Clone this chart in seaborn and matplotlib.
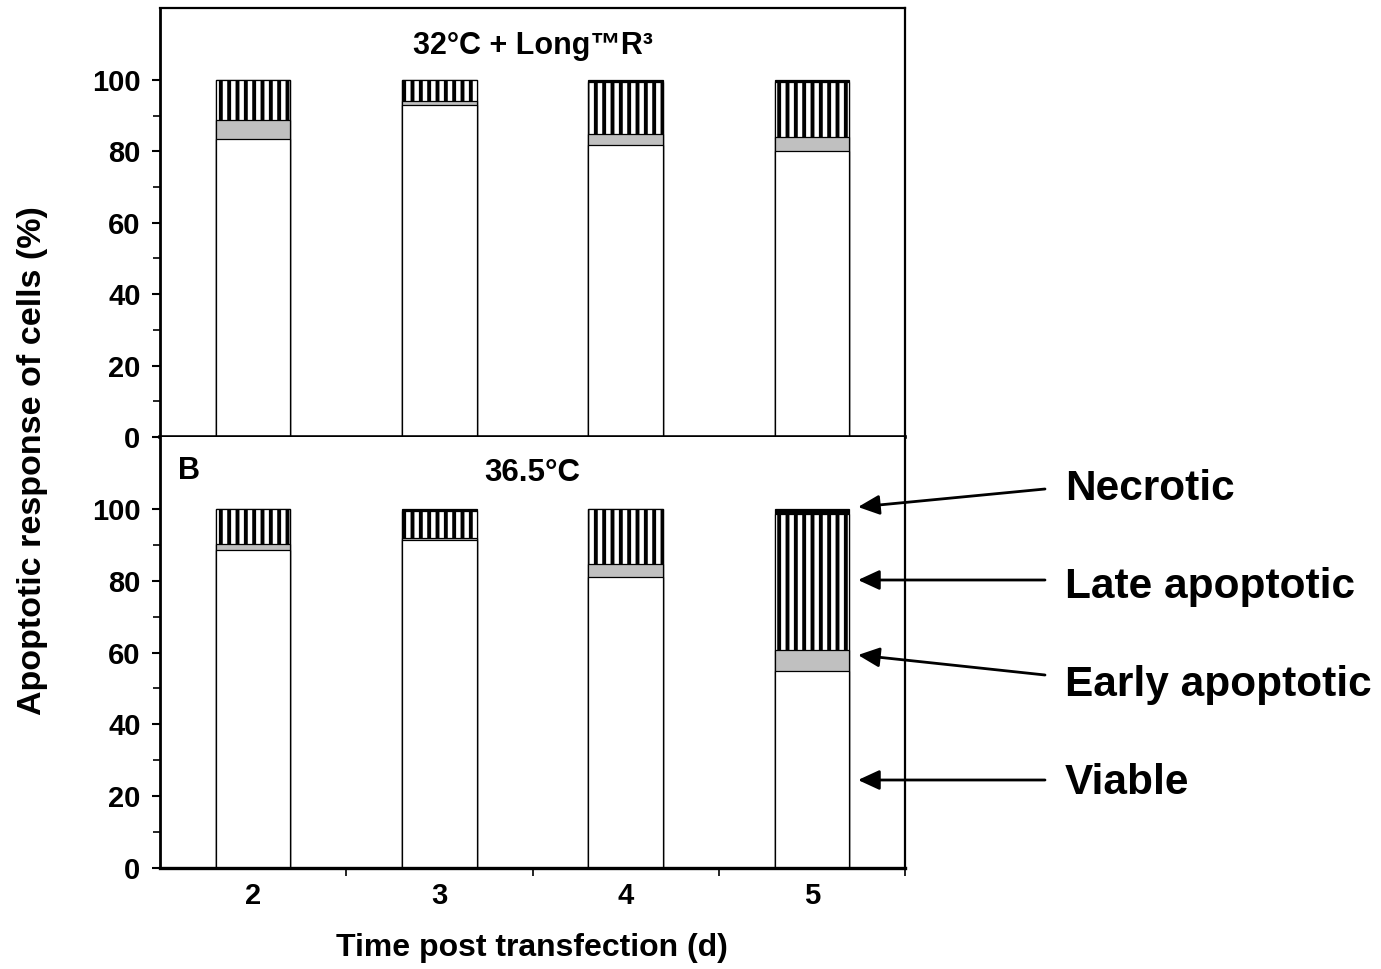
import matplotlib
matplotlib.use("Agg")
import matplotlib.pyplot as plt
import seaborn as sns
import pandas as pd
import numpy as np
from matplotlib.ticker import FixedLocator

# ---------------- data ----------------
days = ["2", "3", "4", "5"]
panels = ["32°C + Long™R³", "36.5°C"]

top_viable = [83.5, 92.9, 81.8, 80.2]
top_early = [5.2, 1.1, 3.0, 3.9]
top_late = [11.2, 5.9, 14.7, 15.4]
top_necrotic = [0.1, 0.1, 0.5, 0.5]

bot_viable = [88.5, 91.3, 80.9, 54.8]
bot_early = [1.7, 0.6, 3.7, 5.8]
bot_late = [9.7, 7.6, 15.3, 38.0]
bot_necrotic = [0.1, 0.5, 0.1, 1.4]

categories = ["Viable", "Early apoptotic", "Late apoptotic", "Necrotic"]
yticks = [0, 20, 40, 60, 80, 100]
yminor = [10, 30, 50, 70, 90]

# ---------------- style ----------------
sns.set_theme(style="white")
plt.rcParams["font.family"] = ["Liberation Sans", "DejaVu Sans"]
plt.rcParams["font.weight"] = "bold"
plt.rcParams["text.color"] = "black"
plt.rcParams["axes.labelcolor"] = "black"
plt.rcParams["xtick.color"] = "black"
plt.rcParams["ytick.color"] = "black"
plt.rcParams["hatch.linewidth"] = 2.8
plt.rcParams["hatch.color"] = "black"

fig = plt.figure(figsize=(13.81, 9.69), dpi=100)
ax1 = fig.add_axes([0.1159, 0.549, 0.5394, 0.4423])
ax2 = fig.add_axes([0.1159, 0.1042, 0.5394, 0.4448])

def draw_panel(ax, viable, early, late, necrotic):
    df = pd.DataFrame({"day": days, "viable": viable, "early": early,
                       "late": late, "necrotic": necrotic})
    df["c_early"] = df["viable"] + df["early"]
    df["c_late"] = df["c_early"] + df["late"]
    df["c_nec"] = df["c_late"] + df["necrotic"]
    layers = [
        ("c_nec", "black", None),
        ("c_late", "white", "||"),
        ("c_early", "#c0c0c0", None),
        ("viable", "white", None),
    ]
    for col, color, hatch in layers:
        sns.barplot(data=df, x="day", y=col, color=color, saturation=1,
                    width=0.4, edgecolor="black", linewidth=0.9,
                    hatch=hatch, ax=ax, errorbar=None)
    ax.set_xlim(-0.5, 3.5)
    ax.set_ylim(0, 120)
    ax.set_xlabel("")
    ax.set_ylabel("")
    ax.yaxis.set_major_locator(FixedLocator(yticks))
    ax.yaxis.set_minor_locator(FixedLocator(yminor))
    ax.tick_params(axis="y", which="major", direction="out", length=6,
                   width=1.5, labelsize=21, pad=8, left=True,
                   colors="black")
    ax.tick_params(axis="y", which="minor", direction="out", length=5,
                   width=1.2, left=True, colors="black")
    for lab in ax.get_yticklabels():
        lab.set_fontweight("bold")
        lab.set_color("black")
    for s in ax.spines.values():
        s.set_visible(True)
        s.set_color("black")
        s.set_linewidth(1.6)

draw_panel(ax1, top_viable, top_early, top_late, top_necrotic)
draw_panel(ax2, bot_viable, bot_early, bot_late, bot_necrotic)

# top panel: no x ticks
ax1.tick_params(axis="x", which="both", bottom=False, labelbottom=False)
ax1.spines["bottom"].set_linewidth(2.6)
ax1.spines["left"].set_linewidth(2.0)
ax2.spines["left"].set_linewidth(2.0)
ax2.spines["bottom"].set_linewidth(2.4)
ax2.spines["top"].set_visible(False)

# bottom panel: labels at centres, ticks at boundaries
ax2.xaxis.set_minor_locator(FixedLocator([0.5, 1.5, 2.5, 3.5]))
ax2.tick_params(axis="x", which="major", bottom=False, labelsize=21, pad=4,
                colors="black")
ax2.tick_params(axis="x", which="minor", bottom=True, direction="out",
                length=6, width=1.2, colors="black")
for lab in ax2.get_xticklabels():
    lab.set_fontweight("bold")
    lab.set_color("black")

ax1.text(0.5, 109.5, panels[0], transform=ax1.get_yaxis_transform(),
         ha="center", va="center", fontsize=22, fontweight="bold")
ax2.text(0.5, 110, panels[1], transform=ax2.get_yaxis_transform(),
         ha="center", va="center", fontsize=22.5, fontweight="bold")
ax2.text(0.024, 110.5, "B", transform=ax2.get_yaxis_transform(),
         ha="left", va="center", fontsize=22, fontweight="bold")

fig.text(33 / 1381, 1 - 461 / 969, "Apoptotic response of cells (%)",
         rotation=90, ha="center", va="center", fontsize=24.5,
         fontweight="bold")
fig.text(532 / 1381, 1 - 948 / 969, "Time post transfection (d)",
         ha="center", va="center", fontsize=23, fontweight="bold")

# legend-like annotations with arrows (figure pixel coordinates)
H = 969
ann = [
    (categories[3], (1045, 489), (858, 507), 489),
    (categories[2], (1045, 580), (858, 580), 587),
    (categories[1], (1045, 675), (858, 655), 685),
    (categories[0], (1045, 780), (858, 780), 783),
]
for label, tail, head, ty in ann:
    fig.add_artist(matplotlib.patches.FancyArrowPatch(
        posA=(tail[0] / 1381, 1 - tail[1] / H),
        posB=(head[0] / 1381, 1 - head[1] / H),
        transform=fig.transFigure, arrowstyle="-|>,head_length=13,head_width=6",
        mutation_scale=1, color="black", linewidth=2.0,
        shrinkA=0, shrinkB=0))
    fig.text(1065 / 1381, 1 - ty / H, label, ha="left", va="center",
             fontsize=30.5, fontweight="bold")

fig.savefig("out.png", dpi=100)
